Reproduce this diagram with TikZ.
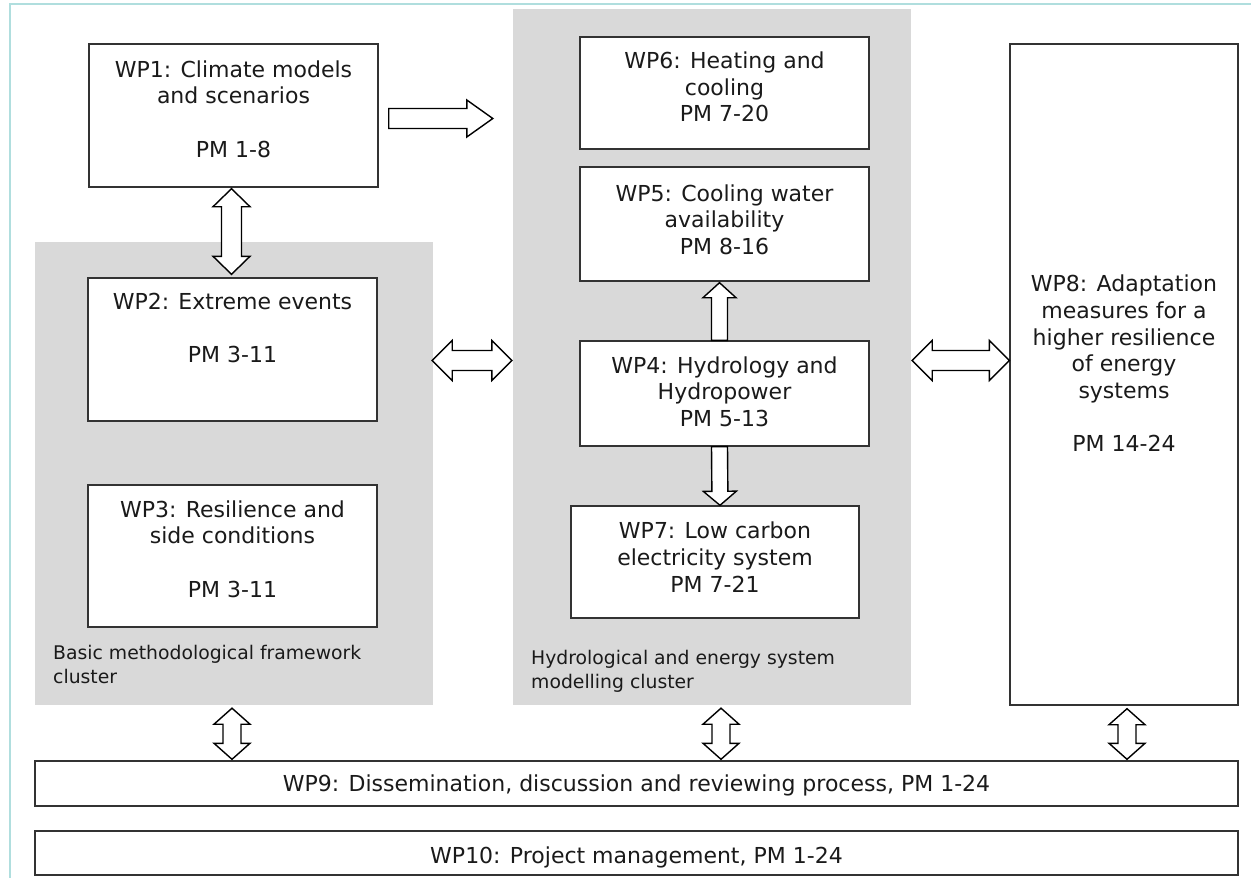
\documentclass[tikz,border=0pt]{standalone}
\usepackage{fontspec}
\setmainfont{DejaVu Sans}
\usetikzlibrary{calc}
\definecolor{clgray}{HTML}{D9D9D9}
\definecolor{framec}{HTML}{B0DEDE}
\definecolor{bord}{HTML}{333333}
\definecolor{txtc}{HTML}{1A1A1A}
\tikzset{
  wpbox/.style={draw=bord, line width=1.4pt, fill=white, inner sep=0pt},
  cluster/.style={fill=clgray, draw=none, inner sep=0pt},
  wptext/.style={align=center, inner sep=0pt, text=txtc, font=\fontsize{22}{26.7}\selectfont},
  cltext/.style={align=left, inner sep=0pt, text=txtc, anchor=north west, font=\fontsize{18.8}{24}\selectfont},
  fatarr/.style={draw=black, line width=1.4pt, fill=white, line join=miter}
}
% single fat arrow: start, end, shaft half width, head half width, head length
\newcommand\fatarrow[5]{%
  \path let \p1=#1, \p2=#2, \n1={atan2(\y2-\y1,\x2-\x1)}, \n2={veclen(\x2-\x1,\y2-\y1)} in \pgfextra{\xdef\faang{\n1}\xdef\falen{\n2}};
  \draw[fatarr, shift={#1}, rotate=\faang] (0pt,-#3) -- (\falen-#5,-#3) -- (\falen-#5,-#4) -- (\falen,0pt) -- (\falen-#5,#4) -- (\falen-#5,#3) -- (0pt,#3) -- cycle;}
% double fat arrow
\newcommand\fatdarrow[5]{%
  \path let \p1=#1, \p2=#2, \n1={atan2(\y2-\y1,\x2-\x1)}, \n2={veclen(\x2-\x1,\y2-\y1)} in \pgfextra{\xdef\faang{\n1}\xdef\falen{\n2}};
  \draw[fatarr, shift={#1}, rotate=\faang] (0pt,0pt) -- (#5,#4) -- (#5,#3) -- (\falen-#5,#3) -- (\falen-#5,#4) -- (\falen,0pt) -- (\falen-#5,-#4) -- (\falen-#5,-#3) -- (#5,-#3) -- (#5,-#4) -- cycle;}
\begin{document}
\begin{tikzpicture}[x=1pt,y=-1pt]
\useasboundingbox (0,0) rectangle (1251,878);
\fill[white] (0,0) rectangle (1251,878);
% outer frame (teal)
\draw[framec, line width=2pt] (10,878) -- (10,4) -- (1251,4);

% clusters
\node[cluster, minimum width=398pt, minimum height=463pt] (c1) at (234,473.5) {};
\node[cluster, minimum width=398pt, minimum height=696pt] (c2) at (712,357) {};

% boxes
\node[wpbox, minimum width=289pt, minimum height=143pt] (wp1) at (233.5,115.5) {};
\node[wpbox, minimum width=289pt, minimum height=143pt] (wp2) at (232.5,349.5) {};
\node[wpbox, minimum width=289pt, minimum height=142pt] (wp3) at (232.5,556) {};
\node[wpbox, minimum width=289pt, minimum height=112pt] (wp6) at (724.5,93) {};
\node[wpbox, minimum width=289pt, minimum height=114pt] (wp5) at (724.5,224) {};
\node[wpbox, minimum width=289pt, minimum height=105pt] (wp4) at (724.5,393.5) {};
\node[wpbox, minimum width=288pt, minimum height=112pt] (wp7) at (715,562) {};
\node[wpbox, minimum width=228pt, minimum height=661pt] (wp8) at (1124,374.5) {};
\node[wpbox, minimum width=1203pt, minimum height=45pt] (wp9) at (636.5,783.5) {};
\node[wpbox, minimum width=1203pt, minimum height=44pt] (wp10) at (636.5,853) {};

% texts
\node[wptext] (t1) at (233.5,109) {WP1: Climate models\\and scenarios\\[26.7pt]PM 1-8};
\node[wptext] (t2) at (232.5,328) {WP2: Extreme events\\[26.7pt]PM 3-11};
\node[wptext] (t3) at (232.5,549) {WP3: Resilience and\\side conditions\\[26.7pt]PM 3-11};
\node[wptext] (t6) at (724.5,87) {WP6: Heating and\\cooling\\PM 7-20};
\node[wptext] (t5) at (724.5,219.5) {WP5: Cooling water\\availability\\PM 8-16};
\node[wptext] (t4) at (724.5,391.5) {WP4: Hydrology and\\Hydropower\\PM 5-13};
\node[wptext] (t7) at (715,557) {WP7: Low carbon\\electricity system\\PM 7-21};
\node[wptext] (t8) at (1124,363.5) {WP8: Adaptation\\measures for a\\higher resilience\\of energy\\systems\\[26.7pt]PM 14-24};
\node[wptext] (t9) at (636.5,785) {WP9: Dissemination, discussion and reviewing process, PM 1-24};
\node[wptext] (t10) at (636.5,857) {WP10: Project management, PM 1-24};

\node[cltext] (l1) at (53,645.5) {Basic methodological framework\\cluster};
\node[cltext] (l2) at (531,650.5) {Hydrological and energy system\\modelling cluster};

% arrows
\fatarrow{($(wp1.east)+(10,3)$)}{($(wp1.east -| c2.west)+(-20,3)$)}{10pt}{18.5pt}{26pt}
\fatdarrow{($(wp1.south)+(-2,1)$)}{($(wp2.north)+(-1,-3)$)}{10pt}{18.5pt}{18pt}
\fatdarrow{($(c1.east)+(-1,-113)$)}{($(c1.east -| c2.west)+(-1,-113)$)}{10pt}{20pt}{20pt}
\fatdarrow{($(wp8.west -| c2.east)+(1,-14)$)}{($(wp8.west)+(0,-14)$)}{10pt}{20pt}{20pt}
\fatarrow{($(wp4.north)+(-5,0)$)}{($(wp5.south)+(-5,1)$)}{8pt}{16.5pt}{15pt}
\fatarrow{($(wp4.south)+(-5,0)$)}{($(wp7.north)+(5,0)$)}{8pt}{16.5pt}{14pt}
\fatdarrow{($(c1.south)+(-2,3)$)}{($(c1.south |- wp9.north)+(-2,-1)$)}{9pt}{18pt}{16pt}
\fatdarrow{($(c2.south)+(9,3)$)}{($(c2.south |- wp9.north)+(9,-1)$)}{9pt}{18pt}{16pt}
\fatdarrow{($(wp8.south)+(3,3)$)}{($(wp8.south |- wp9.north)+(3,-1)$)}{9pt}{18pt}{16pt}
\end{tikzpicture}
\end{document}
